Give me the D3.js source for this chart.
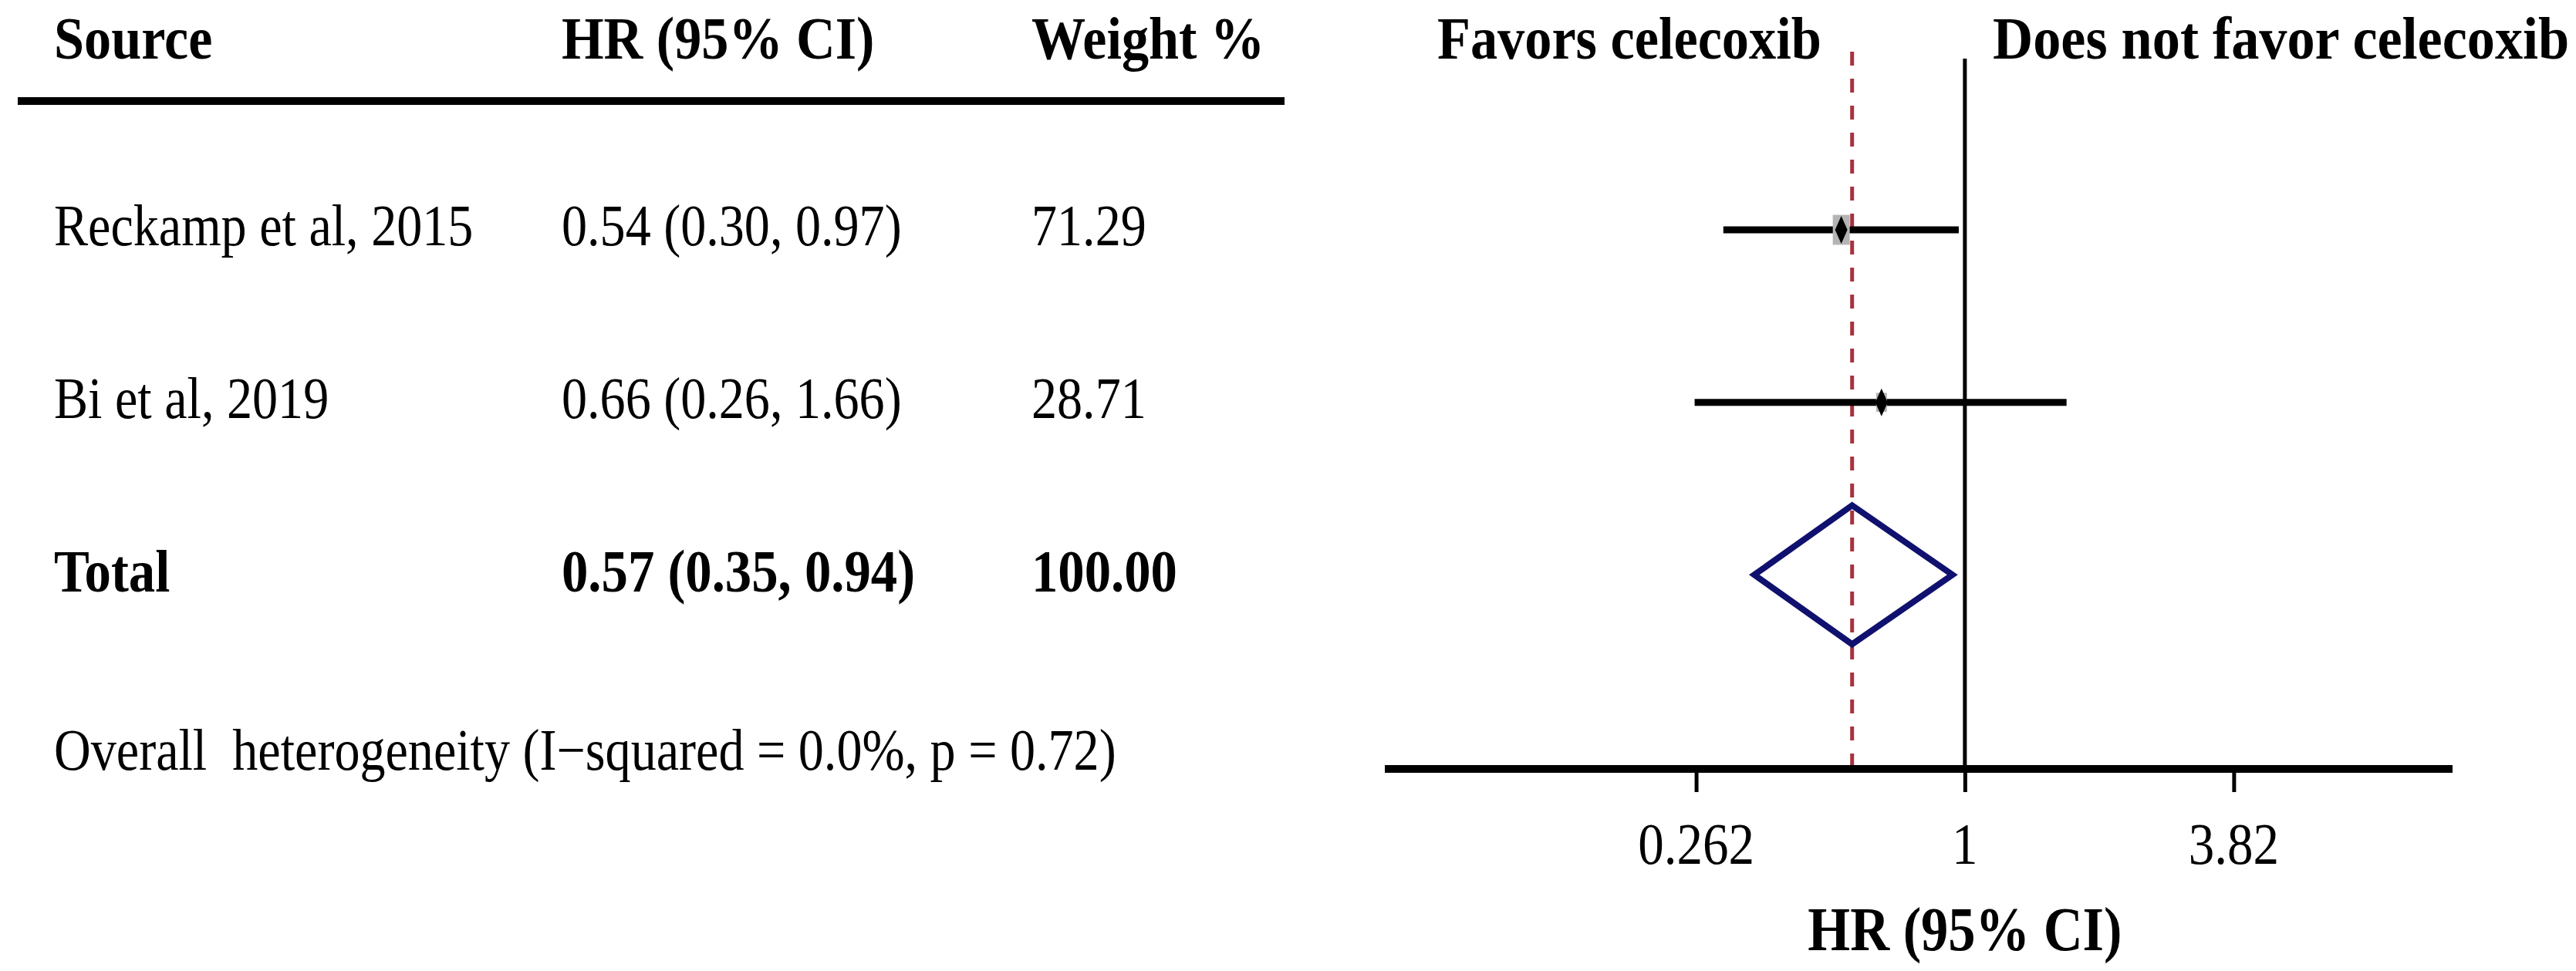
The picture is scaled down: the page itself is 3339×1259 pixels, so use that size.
<!DOCTYPE html>
<html>
<head>
<meta charset="utf-8">
<script src="https://cdn.jsdelivr.net/npm/d3@7"></script>
<style>
  body { margin: 0; background: #fff; }
  text { font-family: "Liberation Serif", "Times New Roman", serif; fill: #000; white-space: pre; }
</style>
</head>
<body>
<svg id="forest" width="3339" height="1259"></svg>
<script>
// study data
const studies = ["Reckamp et al, 2015", "Bi et al, 2019"];
const hr = [0.54, 0.66];
const lower = [0.30, 0.26];
const upper = [0.97, 1.66];
const weights = [71.29, 28.71];

// pooled estimate
const totalLabel = "Total";
const totalHr = 0.57;
const totalLower = 0.35;
const totalUpper = 0.94;
const totalWeight = "100.00";

const headers = ["Source", "HR (95% CI)", "Weight %"];
const heterogeneity = "Overall  heterogeneity (I\u2212squared = 0.0%, p = 0.72)";
const tickValues = [0.262, 1, 3.82];
const favorsLeft = "Favors celecoxib";
const favorsRight = "Does not favor celecoxib";
const axisTitle = "HR (95% CI)";

const svg = d3.select("#forest");

const fmt = d3.format(".2f");

// the original figure is a bit squeezed sideways
function label(parent, x, y, txt, size, bold, anchor, squeeze) {
  const sx = squeeze || 0.87;
  return parent.append("text")
    .attr("transform", `translate(${x},${y}) scale(${sx},1)`)
    .attr("text-anchor", anchor || "start")
    .style("font-size", size + "px")
    .style("font-weight", bold ? "bold" : "normal")
    .text(txt);
}

// columns of the table on the left
const colX = [70, 728, 1337];

// rows: 0,1 = studies, 2 = total, 3 = heterogeneity
const y = d3.scalePoint().domain([0, 1, 2, 3]).range([298, 969]);

// log scale for the HR
const x = d3.scaleLog().domain([0.0555, 11.37]).range([1795, 3179]);

const axisY = 997;
const topY = 76;

// header
headers.forEach((h, i) => label(svg, colX[i], 76, h, 78, true, "start", 0.9));

svg.append("line")
  .attr("x1", 23).attr("x2", 1665)
  .attr("y1", 131).attr("y2", 131)
  .attr("stroke", "#000")
  .attr("stroke-width", 10);

// study rows
const rows = studies.map((s, i) => ({
  name: s,
  hr: hr[i],
  lo: lower[i],
  hi: upper[i],
  w: weights[i],
  row: i,
}));

rows.forEach((d) => {
  const by = y(d.row) + 20;
  label(svg, colX[0], by, d.name, 76, false);
  label(svg, colX[1], by, `${fmt(d.hr)} (${fmt(d.lo)}, ${fmt(d.hi)})`, 76, false);
  label(svg, colX[2], by, fmt(d.w), 76, false);
});

// total row
const ty = y(2) + 22;
label(svg, colX[0], ty, totalLabel, 79, true);
label(svg, colX[1], ty, `${fmt(totalHr)} (${fmt(totalLower)}, ${fmt(totalUpper)})`, 79, true);
label(svg, colX[2], ty, totalWeight, 79, true);

label(svg, colX[0], y(3) + 29, heterogeneity, 76, false);

// favors labels
label(svg, 1863, 76, favorsLeft, 79, true, "start", 0.89);
label(svg, 2583, 76, favorsRight, 79, true, "start", 0.915);

// null line
svg.append("line")
  .attr("x1", x(1)).attr("x2", x(1))
  .attr("y1", topY).attr("y2", axisY)
  .attr("stroke", "#000")
  .attr("stroke-width", 5);

// pooled estimate line (dashed)
svg.append("line")
  .attr("x1", x(totalHr)).attr("x2", x(totalHr))
  .attr("y1", 67).attr("y2", axisY)
  .attr("stroke", "#a8323e")
  .attr("stroke-width", 5)
  .attr("stroke-dasharray", "18,17");

// confidence intervals
svg.append("g")
  .selectAll("line")
  .data(rows)
  .join("line")
  .attr("x1", (d) => x(d.lo))
  .attr("x2", (d) => x(d.hi))
  .attr("y1", (d) => y(d.row))
  .attr("y2", (d) => y(d.row))
  .attr("stroke", "#000")
  .attr("stroke-width", 9);

// weight boxes (grey), area ~ weight
const boxScale = d3.scaleSqrt().domain([0, 100]).range([0, 1]);
svg.append("g")
  .selectAll("rect")
  .data(rows)
  .join("rect")
  .attr("x", (d) => x(d.hr) - 13 * boxScale(d.w))
  .attr("y", (d) => y(d.row) - 23 * boxScale(d.w))
  .attr("width", (d) => 26 * boxScale(d.w))
  .attr("height", (d) => 46 * boxScale(d.w))
  .attr("fill", "#b4b4b4");

// point estimate markers
svg.append("g")
  .selectAll("path")
  .data(rows)
  .join("path")
  .attr("d", (d) => {
    const cx = x(d.hr), cy = y(d.row);
    return `M${cx},${cy - 18}L${cx + 8},${cy}L${cx},${cy + 18}L${cx - 8},${cy}Z`;
  })
  .attr("fill", "#000");

// pooled diamond
const dy = y(2);
svg.append("path")
  .attr("d", `M${x(totalLower)},${dy}L${x(totalHr)},${dy - 90}L${x(totalUpper)},${dy}L${x(totalHr)},${dy + 90}Z`)
  .attr("fill", "none")
  .attr("stroke", "#10106e")
  .attr("stroke-width", 8)
  .attr("stroke-linejoin", "miter");

// x axis
const axis = svg.append("g")
  .attr("transform", `translate(0,${axisY})`)
  .call(d3.axisBottom(x).tickValues(tickValues).tickFormat(() => "").tickSize(30));

axis.select(".domain")
  .attr("d", `M${x.range()[0]},0H${x.range()[1]}`)
  .attr("stroke", "#000")
  .attr("stroke-width", 10);
axis.selectAll(".tick line").attr("stroke-width", 5);

// tick labels, squeezed like the rest of the text
tickValues.forEach((t) => label(svg, x(t), 1120, String(t), 77, false, "middle"));

label(svg, x(1), 1232, axisTitle, 81, true, "middle");
</script>
</body>
</html>
